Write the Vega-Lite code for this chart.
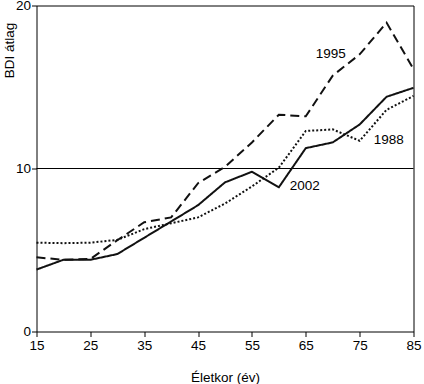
{
  "$schema": "https://vega.github.io/schema/vega-lite/v6.json",
  "width": 377,
  "height": 326,
  "autosize": "none",
  "padding": {"left": 36.5, "top": 5.5, "right": 10.5, "bottom": 52.5},
  "background": "white",
  "config": {
    "view": {"stroke": "#000", "strokeWidth": 1},
    "font": "Liberation Sans",
    "axis": {
      "domain": false,
      "grid": false,
      "tickColor": "#000",
      "tickSize": 5,
      "labelColor": "#000",
      "labelFont": "Liberation Sans",
      "labelFontSize": 13.5,
      "titleFont": "Liberation Sans",
      "titleFontSize": 13.5,
      "titleFontWeight": "normal",
      "titleColor": "#000"
    }
  },
  "datasets": {
    "series": [
      {"age": 15, "year": "2002", "value": 3.8},
      {"age": 20, "year": "2002", "value": 4.4},
      {"age": 25, "year": "2002", "value": 4.4},
      {"age": 30, "year": "2002", "value": 4.75},
      {"age": 35, "year": "2002", "value": 5.75},
      {"age": 40, "year": "2002", "value": 6.75},
      {"age": 45, "year": "2002", "value": 7.75},
      {"age": 50, "year": "2002", "value": 9.15},
      {"age": 55, "year": "2002", "value": 9.8},
      {"age": 60, "year": "2002", "value": 8.85},
      {"age": 65, "year": "2002", "value": 11.25},
      {"age": 70, "year": "2002", "value": 11.6},
      {"age": 75, "year": "2002", "value": 12.7},
      {"age": 80, "year": "2002", "value": 14.4},
      {"age": 85, "year": "2002", "value": 14.95},
      {"age": 15, "year": "1995", "value": 4.55},
      {"age": 20, "year": "1995", "value": 4.4},
      {"age": 25, "year": "1995", "value": 4.45},
      {"age": 30, "year": "1995", "value": 5.6},
      {"age": 35, "year": "1995", "value": 6.7},
      {"age": 40, "year": "1995", "value": 7.0},
      {"age": 45, "year": "1995", "value": 9.1},
      {"age": 50, "year": "1995", "value": 10.1},
      {"age": 55, "year": "1995", "value": 11.6},
      {"age": 60, "year": "1995", "value": 13.3},
      {"age": 65, "year": "1995", "value": 13.2},
      {"age": 70, "year": "1995", "value": 15.7},
      {"age": 75, "year": "1995", "value": 17.0},
      {"age": 80, "year": "1995", "value": 18.95},
      {"age": 85, "year": "1995", "value": 16.1},
      {"age": 15, "year": "1988", "value": 5.45},
      {"age": 20, "year": "1988", "value": 5.42},
      {"age": 25, "year": "1988", "value": 5.45},
      {"age": 30, "year": "1988", "value": 5.62},
      {"age": 35, "year": "1988", "value": 6.28},
      {"age": 40, "year": "1988", "value": 6.64},
      {"age": 45, "year": "1988", "value": 7.0},
      {"age": 50, "year": "1988", "value": 7.85},
      {"age": 55, "year": "1988", "value": 8.9},
      {"age": 60, "year": "1988", "value": 10.05},
      {"age": 65, "year": "1988", "value": 12.3},
      {"age": 70, "year": "1988", "value": 12.4},
      {"age": 75, "year": "1988", "value": 11.7},
      {"age": 80, "year": "1988", "value": 13.6},
      {"age": 85, "year": "1988", "value": 14.45}
    ],
    "labels": [
      {"label": "1995", "age": 69.65, "value": 17.02},
      {"label": "1988", "age": 80.4, "value": 11.74},
      {"label": "2002", "age": 64.8, "value": 8.92}
    ],
    "ref": [{"value": 10}]
  },
  "layer": [
    {
      "data": {"name": "ref"},
      "mark": {"type": "rule", "color": "#000", "strokeWidth": 1},
      "encoding": {
        "y": {"field": "value", "type": "quantitative", "scale": {"domain": [0, 20], "nice": false, "zero": false}}
      }
    },
    {
      "data": {"name": "series"},
      "mark": {"type": "line", "color": "#111", "strokeWidth": 2, "strokeCap": "butt"},
      "encoding": {
        "x": {
          "field": "age", "type": "quantitative",
          "scale": {"domain": [15, 85], "nice": false, "zero": false},
          "axis": {
            "title": "Életkor (év)",
            "values": [15, 20, 25, 30, 35, 40, 45, 50, 55, 60, 65, 70, 75, 80, 85],
            "labelExpr": "(datum.value - 15) % 10 == 0 ? datum.label : ''",
            "labelPadding": 2,
            "titlePadding": 18,
            "labelFlush": false
          }
        },
        "y": {
          "field": "value", "type": "quantitative",
          "scale": {"domain": [0, 20], "nice": false, "zero": false},
          "axis": {
            "title": "BDI átlag",
            "values": [0, 10, 20],
            "labelPadding": 1,
            "labelFlush": false,
            "titleAngle": -90,
            "titleAlign": "center",
            "titleBaseline": "middle",
            "titleX": -27.5,
            "titleY": 44.5
          }
        },
        "strokeDash": {
          "field": "year", "type": "nominal",
          "scale": {"domain": ["1995", "1988", "2002"], "range": [[9, 5], [2, 2], [1, 0]]},
          "legend": null
        }
      }
    },
    {
      "data": {"name": "labels"},
      "mark": {"type": "text", "font": "Liberation Sans", "fontSize": 13.5, "color": "#000", "align": "center", "baseline": "middle"},
      "encoding": {
        "x": {"field": "age", "type": "quantitative"},
        "y": {"field": "value", "type": "quantitative"},
        "text": {"field": "label"}
      }
    }
  ]
}
